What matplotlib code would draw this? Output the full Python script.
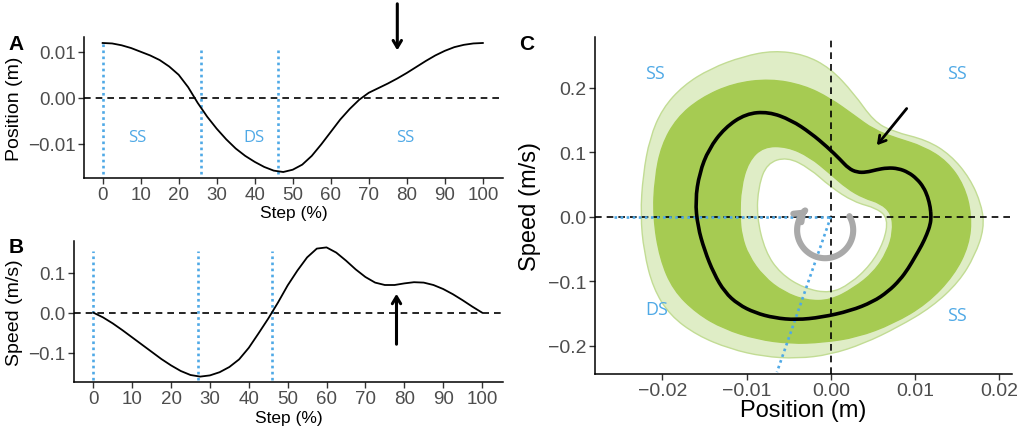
import numpy as np
import matplotlib
matplotlib.use("Agg")
import matplotlib.pyplot as plt
from matplotlib.path import Path
from matplotlib.patches import PathPatch, FancyArrowPatch
from matplotlib.ticker import FixedLocator, FuncFormatter

# ---------------- data ----------------
step = [0, 2.5, 5, 7.5, 10, 12.5, 15, 17.5, 20, 22.5, 25, 27.5, 30, 32.5, 35,
        37.5, 40, 42.5, 45, 47.5, 50, 52.5, 55, 57.5, 60, 62.5, 65, 67.5, 70,
        72.5, 75, 77.5, 80, 82.5, 85, 87.5, 90, 92.5, 95, 97.5, 100]

position = [0.0119, 0.0118, 0.0114, 0.0108, 0.0100, 0.0092, 0.0082, 0.0068,
            0.0050, 0.0023, -0.0011, -0.0041, -0.0067, -0.0090, -0.0110,
            -0.0126, -0.0139, -0.0150, -0.0158, -0.0161, -0.0156, -0.0145,
            -0.0126, -0.0101, -0.0074, -0.0047, -0.0024, -0.0004, 0.0011,
            0.0021, 0.0031, 0.0042, 0.0054, 0.0067, 0.0080, 0.0092, 0.0102,
            0.0110, 0.0115, 0.0118, 0.0119]

speed = [0.000, -0.012, -0.027, -0.044, -0.062, -0.080, -0.098, -0.116,
         -0.132, -0.146, -0.156, -0.160, -0.157, -0.149, -0.136, -0.117,
         -0.088, -0.052, -0.015, 0.025, 0.068, 0.105, 0.138, 0.160, 0.163,
         0.150, 0.130, 0.108, 0.089, 0.075, 0.069, 0.069, 0.073, 0.076,
         0.075, 0.069, 0.059, 0.046, 0.031, 0.015, 0.000]

phase_lines_A = [0, 26, 46]
phase_lines_B = [0, 27, 46]
phase_labels_A = [("SS", 9.2), ("DS", 39.8), ("SS", 79.6)]

# envelope of the individual trial loops in panel C (position, speed)
dense_outer = [(-0.0211, 0.000), (-0.0209, 0.060), (-0.0201, 0.111), (-0.0183, 0.153),
               (-0.0155, 0.184), (-0.0116, 0.207), (-0.0072, 0.214), (-0.0032, 0.204),
               (-0.0001, 0.184), (0.0027, 0.158), (0.0051, 0.135), (0.0078, 0.122),
               (0.0110, 0.109), (0.0138, 0.086), (0.0158, 0.049), (0.0167, 0.003),
               (0.0164, -0.044), (0.0146, -0.091), (0.0114, -0.135), (0.0074, -0.166),
               (0.0031, -0.187), (-0.0009, -0.195), (-0.0048, -0.197), (-0.0088, -0.190),
               (-0.0127, -0.174), (-0.0159, -0.150), (-0.0187, -0.114), (-0.0203, -0.065)]

dense_inner = [(-0.0108, 0.000), (-0.0107, 0.044), (-0.0098, 0.086), (-0.0080, 0.109),
               (-0.0052, 0.109), (-0.0025, 0.093), (-0.0001, 0.067), (0.0019, 0.044),
               (0.0039, 0.029), (0.0059, 0.021), (0.0072, 0.005), (0.0074, -0.023),
               (0.0067, -0.054), (0.0051, -0.086), (0.0027, -0.111), (-0.0001, -0.130),
               (-0.0029, -0.130), (-0.0056, -0.117), (-0.0080, -0.093), (-0.0098, -0.060),
               (-0.0106, -0.029)]

sparse_outer = [(-0.0226, 0.003), (-0.0223, 0.065), (-0.0215, 0.122), (-0.0200, 0.168),
                (-0.0175, 0.204), (-0.0143, 0.230), (-0.0104, 0.249), (-0.0068, 0.258),
                (-0.0032, 0.252), (-0.0001, 0.231), (0.0027, 0.192), (0.0051, 0.148),
                (0.0074, 0.132), (0.0114, 0.119), (0.0142, 0.096), (0.0165, 0.060),
                (0.0179, 0.018), (0.0182, -0.018), (0.0171, -0.060), (0.0152, -0.101),
                (0.0120, -0.140), (0.0080, -0.171), (0.0039, -0.197), (-0.0001, -0.214),
                (-0.0040, -0.220), (-0.0080, -0.217), (-0.0120, -0.205), (-0.0159, -0.184),
                (-0.0191, -0.153), (-0.0211, -0.111), (-0.0222, -0.054)]

sparse_inner = [(-0.0088, 0.000), (-0.0086, 0.047), (-0.0076, 0.083), (-0.0052, 0.093),
                (-0.0025, 0.075), (-0.0001, 0.047), (0.0027, 0.023), (0.0055, 0.013),
                (0.0068, -0.003), (0.0063, -0.039), (0.0047, -0.075), (0.0023, -0.104),
                (-0.0001, -0.119), (-0.0032, -0.111), (-0.0060, -0.088), (-0.0078, -0.054)]

phase_labels_C = [("SS", -0.0209, 0.223), ("SS", 0.0150, 0.223),
                  ("DS", -0.0207, -0.143), ("SS", 0.0150, -0.152)]
ds_line_end = (-0.0064, -0.241)

# ---------------- style ----------------
plt.rcParams['font.family'] = ['Liberation Sans', 'DejaVu Sans']
BLUE = '#4fa9e6'
GREEN = '#a6cb52'
LIGHT = '#dfedc6'
THIN = '#c2dc94'
TICKC = '#4d4d4d'
LABEL_FONT = ['Open Sans', 'DejaVu Sans']

W, H = 1023, 435
fig = plt.figure(figsize=(W / 100, H / 100), dpi=100)


def px_axes(l, t, r, b):
    return fig.add_axes([l / W, 1 - b / H, (r - l) / W, (b - t) / H])


def style(ax, ts):
    for s in ['top', 'right']:
        ax.spines[s].set_visible(False)
    for s in ['left', 'bottom']:
        ax.spines[s].set_linewidth(1.1)
        ax.spines[s].set_color('black')
    ax.tick_params(direction='out', length=4, width=1.0, color='#333333',
                   labelcolor=TICKC, labelsize=ts, pad=2)


def minus_fmt(fmt):
    return FuncFormatter(lambda v, p: (fmt % v).replace('-', '\u2212'))


def closed_smooth_path(pts):
    p = np.asarray(pts)
    n = len(p)
    mids = (p + np.roll(p, -1, axis=0)) / 2
    verts = [mids[-1]]
    codes = [Path.MOVETO]
    for i in range(n):
        verts += [p[i], mids[i]]
        codes += [Path.CURVE3, Path.CURVE3]
    return np.array(verts), codes


def ring(outer, inner):
    vo, co = closed_smooth_path(outer)
    vi, ci = closed_smooth_path(list(inner)[::-1])
    return Path(np.concatenate([vo, vi]), co + ci)


# ---------------- panel A ----------------
axA = px_axes(84, 38, 503, 179)
style(axA, 13.5)
axA.set_xlim(-4.9, 105.3)
axA.set_ylim(-0.0174, 0.0132)
axA.axhline(0, color='black', lw=1.2, ls=(0, (4, 3)))
for i, s in enumerate(phase_lines_A):
    top = position[0] if i == 0 else 0.0104
    axA.plot([s, s], [-0.0166, top], color=BLUE, lw=1.9, ls=(0, (1, 1.3)))
axA.plot(step, position, color='black', lw=1.3)
for t, x in phase_labels_A:
    axA.text(x, -0.0086, t, color=BLUE, fontsize=12, ha='center', va='center',
             family=LABEL_FONT)
axA.xaxis.set_major_locator(FixedLocator(list(range(0, 101, 10))))
axA.yaxis.set_major_locator(FixedLocator([-0.01, 0.0, 0.01]))
axA.yaxis.set_major_formatter(minus_fmt('%.2f'))
axA.set_xlabel('Step (%)', fontsize=12.5)
axA.set_ylabel('Position (m)', fontsize=14)
axA.xaxis.set_label_coords(0.5, -0.19)
axA.yaxis.set_label_coords(-0.145, 0.5)
axA.annotate('', xy=(77.5, 0.0103), xytext=(77.5, 0.0204),
             arrowprops=dict(arrowstyle='->,head_length=0.5,head_width=0.3',
                             lw=2.2, color='black', shrinkA=0, shrinkB=0),
             annotation_clip=False)

# ---------------- panel B ----------------
axB = px_axes(74, 242, 503, 383)
style(axB, 13.5)
axB.set_xlim(-4.97, 105.4)
axB.set_ylim(-0.1735, 0.179)
axB.axhline(0, color='black', lw=1.2, ls=(0, (4, 3)))
for s in phase_lines_B:
    axB.plot([s, s], [-0.168, 0.154], color=BLUE, lw=1.9, ls=(0, (1, 1.3)))
axB.plot(step, speed, color='black', lw=1.3)
axB.xaxis.set_major_locator(FixedLocator(list(range(0, 101, 10))))
axB.yaxis.set_major_locator(FixedLocator([-0.1, 0.0, 0.1]))
axB.yaxis.set_major_formatter(minus_fmt('%.1f'))
axB.set_xlabel('Step (%)', fontsize=12.5)
axB.set_ylabel('Speed (m/s)', fontsize=14)
axB.xaxis.set_label_coords(0.5, -0.2)
axB.yaxis.set_label_coords(-0.12, 0.5)
axB.annotate('', xy=(78, 0.047), xytext=(78, -0.079),
             arrowprops=dict(arrowstyle='->,head_length=0.5,head_width=0.3',
                             lw=2.2, color='black', shrinkA=0, shrinkB=0))

# ---------------- panel C ----------------
axC = px_axes(595, 38, 1012, 375)
style(axC, 14)
axC.set_xlim(-0.028, 0.0215)
axC.set_ylim(-0.244, 0.279)

axC.add_patch(PathPatch(ring(sparse_outer, sparse_inner), facecolor=LIGHT,
                        edgecolor='none', zorder=1))
vo, co = closed_smooth_path(sparse_outer)
axC.add_patch(PathPatch(Path(vo, co), facecolor='none', edgecolor=THIN,
                        lw=1.0, zorder=1.2))
vi, ci = closed_smooth_path(sparse_inner)
axC.add_patch(PathPatch(Path(vi, ci), facecolor='none', edgecolor=THIN,
                        lw=1.0, zorder=1.2))
axC.add_patch(PathPatch(ring(dense_outer, dense_inner), facecolor=GREEN,
                        edgecolor=GREEN, lw=1.0, zorder=1.5))

axC.axhline(0, color='black', lw=1.2, ls=(0, (4, 3)), zorder=2)
axC.axvline(0, color='black', lw=1.2, ls=(0, (4, 3)), zorder=2)
axC.plot([-0.0258, 0], [0, 0], color=BLUE, lw=1.9, ls=(0, (1, 1.3)), zorder=2.5)
axC.plot([0, ds_line_end[0]], [0, ds_line_end[1]], color=BLUE, lw=1.9,
         ls=(0, (1, 1.3)), zorder=2.5)

# mean loop: position vs speed, drawn as a smooth closed path
loop_pts = list(zip(position[:-1], speed[:-1]))
lv, lc = closed_smooth_path(loop_pts)
axC.add_patch(PathPatch(Path(lv, lc), facecolor='none', edgecolor='black',
                        lw=2.6, zorder=3))

for t, x, y in phase_labels_C:
    axC.text(x, y, t, color=BLUE, fontsize=13, ha='center', va='center',
             family=LABEL_FONT)

# rotation indicator (clockwise)
cx, cy, rx, ry = -0.00068, -0.0208, 0.00333, 0.0435
ang = np.radians(np.linspace(30, -228, 80))
arc = np.column_stack([cx + rx * np.cos(ang), cy + ry * np.sin(ang)])
axC.add_patch(FancyArrowPatch(path=Path(arc),
                              arrowstyle='->,head_length=0.45,head_width=0.35',
                              mutation_scale=12, lw=4.4, color='#a9a9a9',
                              zorder=4))

axC.annotate('', xy=(0.00546, 0.111), xytext=(0.0090, 0.168),
             arrowprops=dict(arrowstyle='->,head_length=0.5,head_width=0.3',
                             lw=2.0, color='black', shrinkA=0, shrinkB=0),
             zorder=5)

axC.xaxis.set_major_locator(FixedLocator([-0.02, -0.01, 0.0, 0.01, 0.02]))
axC.yaxis.set_major_locator(FixedLocator([-0.2, -0.1, 0.0, 0.1, 0.2]))
axC.xaxis.set_major_formatter(minus_fmt('%.2f'))
axC.yaxis.set_major_formatter(minus_fmt('%.1f'))
axC.set_xlabel('Position (m)', fontsize=17)
axC.set_ylabel('Speed (m/s)', fontsize=17)
axC.xaxis.set_label_coords(0.5, -0.075)
axC.yaxis.set_label_coords(-0.13, 0.5)

for lab, x, y in [('A', 16, 45), ('B', 16, 248), ('C', 527, 45)]:
    fig.text(x / W, 1 - y / H, lab, fontsize=15, fontweight='bold',
             ha='center', va='center')

fig.savefig('out.png', dpi=100)
